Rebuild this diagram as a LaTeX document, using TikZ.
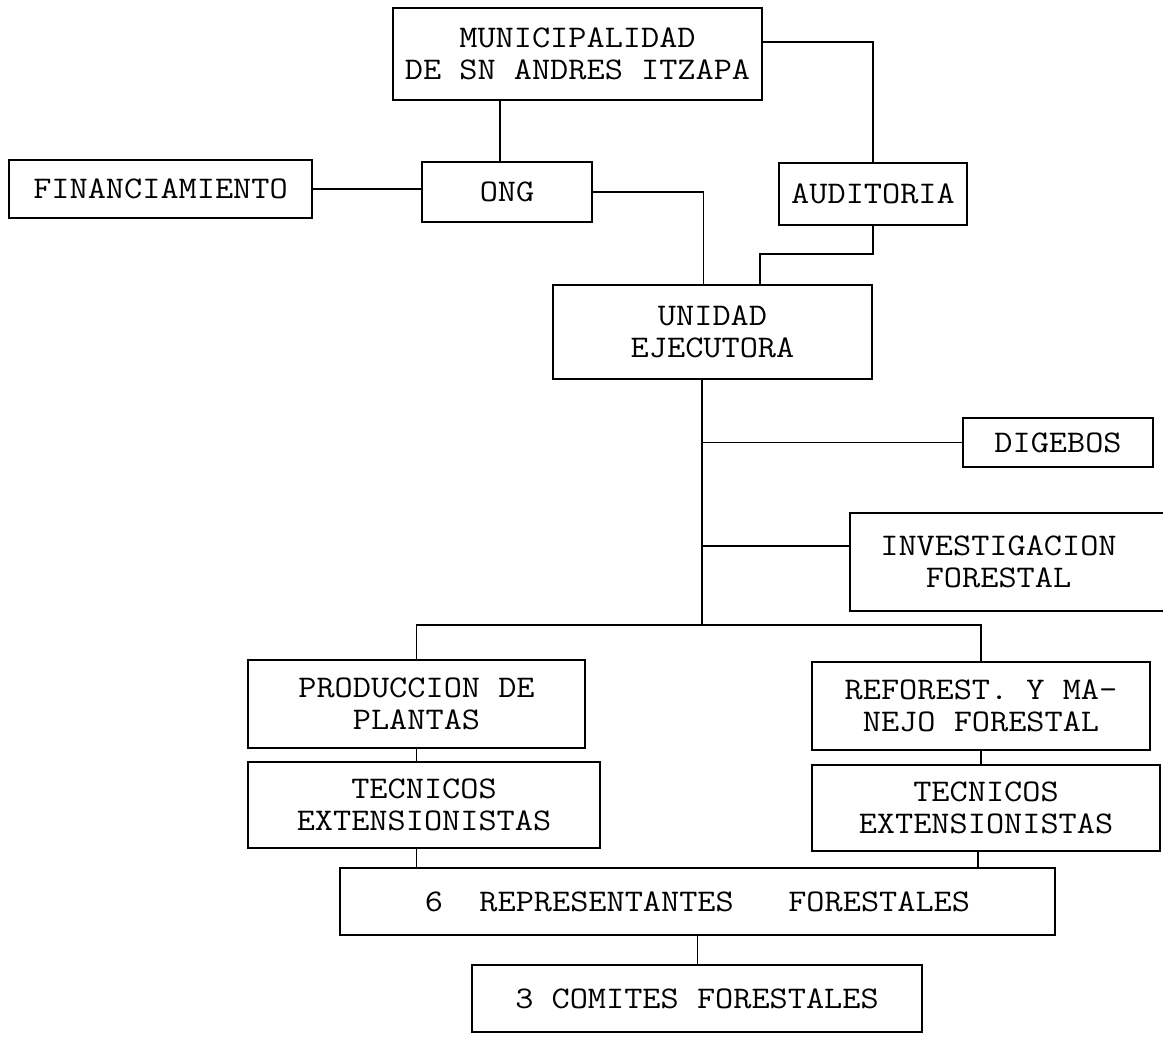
\documentclass[tikz,border=0pt]{standalone}
\usepackage{fontspec}
\newfontfamily\tw[FakeStretch=1.12]{Latin Modern Mono}
\usetikzlibrary{calc}
\begin{document}
\begin{tikzpicture}[x=1pt,y=-1pt,
  box/.style={draw=black, line width=1.7pt, inner sep=0pt, align=center,
    font=\tw\fontsize{31.5}{32}\selectfont},
  conn/.style={draw=black, line width=1.7pt}]
\clip (0,0) rectangle (1163,1057);
\fill[white] (0,0) rectangle (1163,1057);
% nodes (centre, width, height)
\node[box, minimum width=369pt, minimum height=92pt] (muni) at (577.5,54) {MUNICIPALIDAD\\DE SN ANDRES ITZAPA};
\node[box, minimum width=188pt, minimum height=62pt] (aud) at (873,194) {AUDITORIA};
\node[box, minimum width=303pt, minimum height=58pt] (fin) at (160.5,189) {FINANCIAMIENTO};
\node[box, minimum width=170pt, minimum height=60pt] (ong) at (507,192) {ONG};
\node[box, minimum width=319pt, minimum height=94pt] (ue) at (712.5,332) {UNIDAD\\EJECUTORA};
\node[box, minimum width=190pt, minimum height=49pt] (dig) at (1058,442.5) {DIGEBOS};
\node[box, minimum width=325pt, minimum height=98pt, text width=325pt] (inv) at (1012.5,562) {\hspace*{-28pt}INVESTIGACION\\\hspace*{-28pt}FORESTAL};
\node[box, minimum width=337pt, minimum height=88pt] (prod) at (416.5,704) {PRODUCCION DE\\PLANTAS};
\node[box, minimum width=352pt, minimum height=86pt] (tecL) at (424,805) {TECNICOS\\EXTENSIONISTAS};
\node[box, minimum width=338pt, minimum height=88pt] (ref) at (981,706) {REFOREST. Y MA-\\NEJO FORESTAL};
\node[box, minimum width=348pt, minimum height=86pt] (tecR) at (986,808) {TECNICOS\\EXTENSIONISTAS};
\node[box, minimum width=715pt, minimum height=67pt] (rep) at (697.5,901.5) {6~~REPRESENTANTES~~~FORESTALES};
\node[box, minimum width=450pt, minimum height=67pt] (com) at (697,998.5) {3 COMITES FORESTALES};
% helper coordinates
\coordinate (aj) at (760,254);
\coordinate (br) at (702,625);
% connectors
\draw[conn] ([xshift=-7pt]ong.north) -- ([xshift=-7pt]ong.north |- muni.south);
\draw[conn] ([yshift=12pt]muni.east) -| (aud.north);
\draw[conn] (fin.east) -- (fin.east -| ong.west);
\draw[conn] (ong.east) -| ([xshift=-9pt]ue.north);
\draw[conn] (aud.south) |- (aj) -- (aj |- ue.north);
\draw[conn] (ue.south -| br) -- (br);
\draw[conn] (dig.west) -- (dig.west -| br);
\draw[conn] ([yshift=16pt]inv.west) -- ([yshift=16pt]inv.west -| br);
\draw[conn] (prod.north) |- (br) -| (ref.north);
\draw[conn] (prod.south) -- (prod.south |- tecL.north);
\draw[conn] (tecL.south -| prod.south) -- (prod.south |- rep.north);
\draw[conn] (ref.south) -- (ref.south |- tecR.north);
\draw[conn] ([xshift=-3pt]tecR.south -| ref.south) -- ([xshift=-3pt]ref.south |- rep.north);
\draw[conn] (rep.south) -- (rep.south |- com.north);
\end{tikzpicture}
\end{document}
